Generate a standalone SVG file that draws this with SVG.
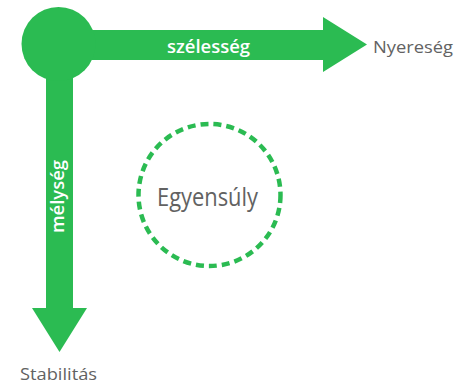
<svg xmlns="http://www.w3.org/2000/svg" width="472" height="386" viewBox="0 0 472 386">
<style>
.g{fill:#2bbb52}
.w{fill:#fff;font-family:"Open Sans","Noto Sans",sans-serif;font-weight:600}
.t{fill:#626262;font-family:"Open Sans","Noto Sans",sans-serif;font-weight:500}
</style>
<rect width="472" height="386" fill="#fff"/>
<g id="connectors">
<path id="arrow-right" class="g" d="M58 30 H323 V17 L367 44.5 L323 72 V60 H58 Z"/>
<path id="arrow-down" class="g" d="M46 44 V308 H32 L59.5 352 L87 308 H73 V44 Z"/>
</g>
<g id="origin"><circle class="g" cx="58.5" cy="44" r="37"/></g>
<g id="szelesseg"><text class="w" x="167" y="53" font-size="18" textLength="83" lengthAdjust="spacingAndGlyphs">szélesség</text></g>
<g id="melyseg"><text class="w" transform="translate(64 233) rotate(-90)" x="0" y="0" font-size="18" textLength="73" lengthAdjust="spacingAndGlyphs">mélység</text></g>
<g id="nyereseg"><text class="t" x="373" y="53" font-size="16" textLength="80" lengthAdjust="spacingAndGlyphs">Nyereség</text></g>
<g id="stabilitas"><text class="t" x="20" y="380" font-size="16.5" textLength="77" lengthAdjust="spacingAndGlyphs">Stabilitás</text></g>
<g id="egyensuly">
<circle cx="209.5" cy="195" r="71" fill="none" stroke="#2bbb52" stroke-width="4.5" stroke-dasharray="8 5"/>
<text class="t" x="157" y="206" font-size="25" textLength="101" lengthAdjust="spacingAndGlyphs">Egyensúly</text>
</g>
</svg>
